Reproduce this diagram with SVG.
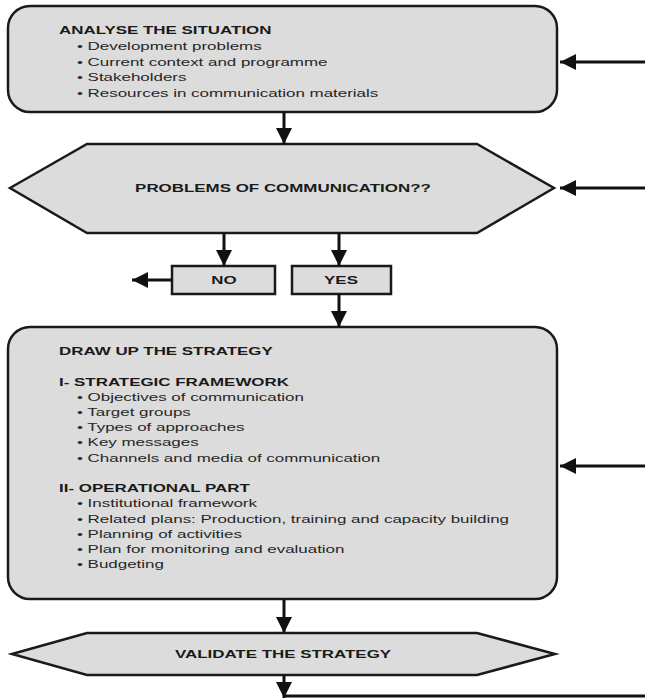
<svg xmlns="http://www.w3.org/2000/svg" width="645" height="698" viewBox="0 0 645 698">
  <style>
    .box { fill: #dcdcdc; stroke: #1a1a1a; stroke-width: 2.5; }
    .t { font-family: "Liberation Sans", Arial, sans-serif; font-size: 11px; fill: #262626; }
    .b { font-weight: bold; fill: #1a1a1a; }
    .c { text-anchor: middle; }
    .conn { stroke: #111; stroke-width: 3; fill: none; }
  </style>
  <defs>
    <marker id="ah" viewBox="0 0 16 16" markerUnits="userSpaceOnUse" markerWidth="16" markerHeight="16" refX="16" refY="8" orient="auto">
      <path d="M0,0 L16,8 L0,16 z" fill="#111"/>
    </marker>
  </defs>
  <rect width="645" height="698" fill="#ffffff"/>

  <g id="analyse">
    <rect class="box" x="8" y="6" width="549" height="106" rx="22" ry="22"/>
    <text class="t b" transform="translate(59,34) scale(1.54,1)">ANALYSE THE SITUATION</text>
    <text class="t" transform="translate(77,50) scale(1.54,1)">• Development problems</text>
    <text class="t" transform="translate(77,65.5) scale(1.54,1)">• Current context and programme</text>
    <text class="t" transform="translate(77,81) scale(1.54,1)">• Stakeholders</text>
    <text class="t" transform="translate(77,96.5) scale(1.54,1)">• Resources in communication materials</text>
  </g>

  <g id="problems">
    <polygon class="box" points="10,188 87,144 477,144 554,188 477,233 87,233"/>
    <text class="t b c" transform="translate(283,192) scale(1.54,1)">PROBLEMS OF COMMUNICATION??</text>
  </g>

  <g id="no">
    <rect class="box" x="172" y="266" width="103" height="28"/>
    <text class="t b c" transform="translate(224,284) scale(1.54,1)">NO</text>
  </g>

  <g id="yes">
    <rect class="box" x="292" y="266" width="99" height="28"/>
    <text class="t b c" transform="translate(341,284) scale(1.54,1)">YES</text>
  </g>

  <g id="strategy">
    <rect class="box" x="8" y="327" width="549" height="272" rx="22" ry="22"/>
    <text class="t b" transform="translate(59,355) scale(1.54,1)">DRAW UP THE STRATEGY</text>
    <text class="t b" transform="translate(59,386) scale(1.54,1)">I- STRATEGIC FRAMEWORK</text>
    <text class="t" transform="translate(77,401) scale(1.54,1)">• Objectives of communication</text>
    <text class="t" transform="translate(77,416) scale(1.54,1)">• Target groups</text>
    <text class="t" transform="translate(77,431) scale(1.54,1)">• Types of approaches</text>
    <text class="t" transform="translate(77,446) scale(1.54,1)">• Key messages</text>
    <text class="t" transform="translate(77,461.5) scale(1.54,1)">• Channels and media of communication</text>
    <text class="t b" transform="translate(59,492) scale(1.54,1)">II- OPERATIONAL PART</text>
    <text class="t" transform="translate(77,507) scale(1.54,1)">• Institutional framework</text>
    <text class="t" transform="translate(77,522.5) scale(1.54,1)">• Related plans: Production, training and capacity building</text>
    <text class="t" transform="translate(77,537.5) scale(1.54,1)">• Planning of activities</text>
    <text class="t" transform="translate(77,552.5) scale(1.54,1)">• Plan for monitoring and evaluation</text>
    <text class="t" transform="translate(77,567.5) scale(1.54,1)">• Budgeting</text>
  </g>

  <g id="validate">
    <polygon class="box" points="12,654 87,633 477,633 555,654 477,675 87,675"/>
    <text class="t b c" transform="translate(283,658) scale(1.54,1)">VALIDATE THE STRATEGY</text>
  </g>

  <g id="connectors">
    <line class="conn" x1="645" y1="62" x2="560" y2="62" marker-end="url(#ah)"/>
    <line class="conn" x1="284" y1="112" x2="284" y2="144" marker-end="url(#ah)"/>
    <line class="conn" x1="645" y1="188" x2="560" y2="188" marker-end="url(#ah)"/>
    <line class="conn" x1="224" y1="233" x2="224" y2="266" marker-end="url(#ah)"/>
    <line class="conn" x1="339" y1="233" x2="339" y2="266" marker-end="url(#ah)"/>
    <line class="conn" x1="172" y1="280" x2="132" y2="280" marker-end="url(#ah)"/>
    <line class="conn" x1="339" y1="294" x2="339" y2="327" marker-end="url(#ah)"/>
    <line class="conn" x1="645" y1="466" x2="560" y2="466" marker-end="url(#ah)"/>
    <line class="conn" x1="284" y1="599" x2="284" y2="633" marker-end="url(#ah)"/>
    <line class="conn" x1="284" y1="675" x2="284" y2="698" marker-end="url(#ah)"/>
    <line class="conn" x1="284" y1="696" x2="645" y2="696"/>
  </g>
</svg>
